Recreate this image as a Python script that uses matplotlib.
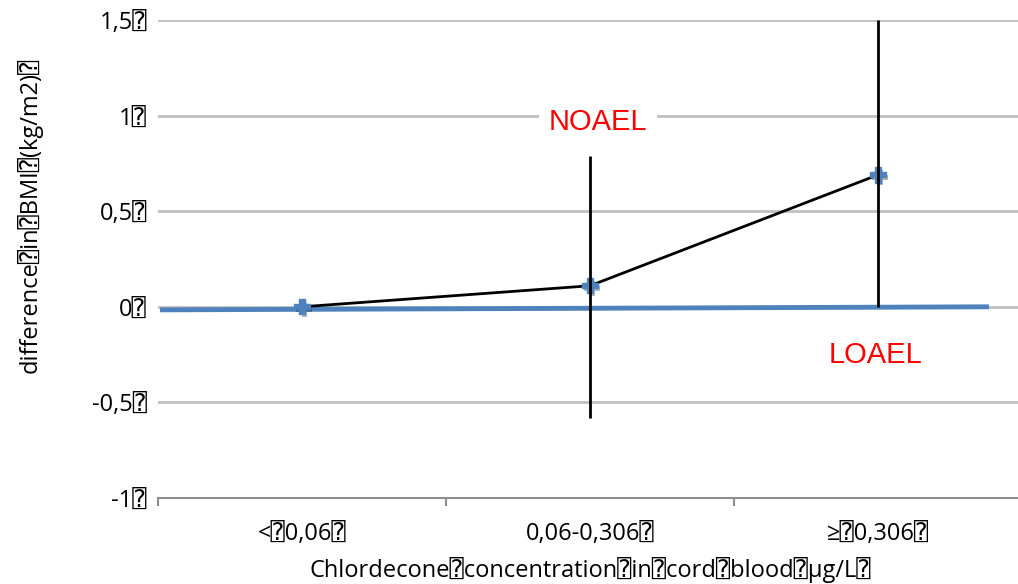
import matplotlib
matplotlib.use("Agg")
import matplotlib.pyplot as plt
import matplotlib.patheffects as pe

# BMI difference by cord-blood chlordecone tertile
groups = ["<\u23700,06\u2370", "0,06-0,306\u2370", "\u2265\u23700,306\u2370"]
bmi_diff = [0.0, 0.11, 0.69]
ci_low = [None, -0.58, 0.0]
ci_high = [None, 0.79, 1.5]
yticks = [-1, -0.5, 0, 0.5, 1, 1.5]
ytick_labels = ["-1\u2370", "-0,5\u2370", "0\u2370", "0,5\u2370", "1\u2370", "1,5\u2370"]

plt.rcParams['font.family'] = ['Open Sans', 'DejaVu Sans', 'DejaVu Sans Mono']

fig = plt.figure(figsize=(10.18, 5.84), dpi=100)
ax = fig.add_axes([158 / 1018, 86 / 584, 864 / 1018, 478 / 584])

x = list(range(len(groups)))

ax.set_xlim(-0.5, 2.5)
ax.set_ylim(-1, 1.5)

# reference line at zero
ax.plot([-0.493, 2.385], [-0.016, 0.0], color='#4F81BD', lw=3.5, zorder=3,
        solid_capstyle='butt')

ax.plot(x, bmi_diff, color='black', lw=2, zorder=4)
ax.plot(x, bmi_diff, ls='none', marker='P', ms=11, color='#4F81BD', mec='#4F81BD',
        zorder=5,
        path_effects=[pe.SimplePatchShadow(offset=(1.5, -2), alpha=0.35), pe.Normal()])
for xi, lo, hi in zip(x, ci_low, ci_high):
    if lo is None:
        continue
    ax.vlines(xi, lo, hi, color='black', lw=2, zorder=6, clip_on=False)

ax.set_yticks(yticks)
ax.set_yticklabels(ytick_labels)
ax.yaxis.grid(True, color='#C0C0C0', lw=2)
ax.set_axisbelow(True)

ax.set_xticks([-0.5, 0.5, 1.5, 2.5])
ax.set_xticklabels([])
ax.set_xticks(x, minor=True)
ax.set_xticklabels(groups, minor=True)
ax.tick_params(axis='x', which='major', length=6, width=1.5, color='#8C8C8C')
ax.tick_params(axis='x', which='minor', length=0, pad=17, labelsize=17)
ax.tick_params(axis='y', length=0, pad=8, labelsize=17)

for s in ['top', 'right', 'left']:
    ax.spines[s].set_visible(False)
ax.spines['bottom'].set_color('#8C8C8C')
ax.spines['bottom'].set_linewidth(1.5)

ax.set_xlabel("Chlordecone\u2370concentration\u2370in\u2370cord\u2370blood\u2370\u00b5g/L\u2370",
              fontsize=17, labelpad=8)
fig.text(30 / 1018, 1 - 215 / 584, "difference\u2370in\u2370BMI\u2370(kg/m2)\u2370",
         rotation=90, fontsize=17, ha='center', va='center')

ax.text(1.028, 0.964, "NOAEL", color='red', fontsize=21, ha='center', va='center',
        family='Liberation Sans', zorder=7,
        bbox=dict(facecolor='white', edgecolor='none', pad=7))
ax.text(1.993, -0.25, "LOAEL", color='red', fontsize=21, ha='center', va='center',
        family='Liberation Sans', zorder=7)

fig.savefig("out.png", dpi=100)
